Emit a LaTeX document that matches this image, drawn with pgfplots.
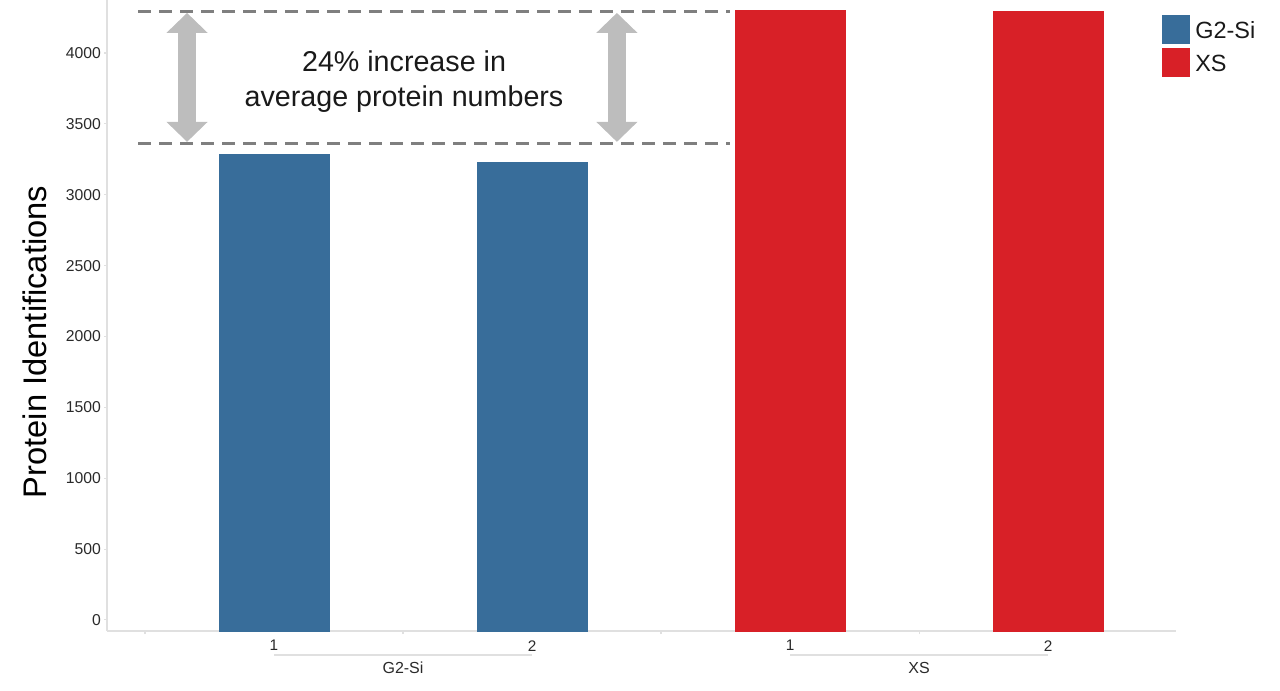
\documentclass[border=0pt]{standalone}
\usepackage{fontspec}
\setmainfont{Liberation Sans}
\usepackage{pgfplots}
\pgfplotsset{compat=1.18}
\usetikzlibrary{arrows.meta}
\definecolor{g2blue}{HTML}{386D9A}
\definecolor{xsred}{HTML}{D82027}
\definecolor{dashgray}{HTML}{7F7F7F}
\definecolor{arrowgray}{HTML}{BDBDBD}
\definecolor{axisgray}{HTML}{E0E0E0}
\definecolor{ticktext}{HTML}{2A2A2A}
\begin{document}
\begin{tikzpicture}
\path[use as bounding box] (-80.25pt,-44.25pt) rectangle (879.75pt,473.25pt);
\begin{axis}[
  scale only axis, width=801.75pt, height=473.25pt,
  xmin=0.3527, xmax=4.496, ymin=-78, ymax=4374,
  axis x line*=bottom, axis y line*=left,
  axis line style={draw=axisgray, line width=1.2pt, -},
  ytick={0,500,...,4000},
  xtick={1,2,3,4}, xticklabels={1,2,1,2},
  minor xtick={0.5,1.5,2.5,3.5},
  major tick length=2pt, minor tick length=2.5pt, tick align=outside,
  tick style={axisgray, line width=0.8pt},
  every major x tick/.append style={draw=none},
  /pgf/number format/.cd, 1000 sep={}, assume math mode=true, /pgfplots/.cd,
  yticklabel style={font=\fontsize{11.8}{14}\selectfont, text=ticktext, xshift=1pt},
  xticklabel style={font=\fontsize{11.5}{14}\selectfont, text=ticktext, yshift=-1.5pt},
  ylabel={Protein Identifications},
  ylabel style={at={(axis description cs:-0.0674,0.458)}, anchor=center, font=\fontsize{24.5}{29}\selectfont, text=black},
  legend style={at={(0.9869,0.9762)}, anchor=north west, draw=none, fill=none, inner sep=0pt,
    font=\fontsize{17.6}{21}\selectfont, text=black!90, row sep=3.35pt, column sep=4.5pt,
    nodes={inner sep=0pt, text depth=0.15em}},
  legend cell align=left,
  clip=false,
]
\addplot[ybar, bar shift=0pt, bar width=82.5pt, fill=g2blue, draw=g2blue, line width=0.3pt,
  legend image code/.code={\fill[g2blue] (0pt,-9.3pt) rectangle (20pt,11.7pt);}]
  coordinates {(1,3287) (2,3231)};
\addlegendentry{G2-Si}
\addplot[ybar, bar shift=0pt, bar width=82.5pt, fill=xsred, draw=xsred, line width=0.3pt,
  legend image code/.code={\fill[xsred] (0pt,-9.3pt) rectangle (20pt,11.7pt);}]
  coordinates {(3,4303) (4,4296)};
\addlegendentry{XS}
% bars continue down to the axis floor (ymin)
\addplot[ybar, bar shift=0pt, bar width=82.5pt, fill=g2blue, draw=g2blue, line width=0.3pt, forget plot]
  coordinates {(1,-78) (2,-78)};
\addplot[ybar, bar shift=0pt, bar width=82.5pt, fill=xsred, draw=xsred, line width=0.3pt, forget plot]
  coordinates {(3,-78) (4,-78)};
% annotation
\draw[dashgray, line width=2.25pt, dash pattern=on 9.75pt off 6pt] (axis cs:0.473,4290) -- (axis cs:2.767,4290);
\draw[dashgray, line width=2.25pt, dash pattern=on 9.75pt off 6pt] (axis cs:0.473,3365) -- (axis cs:2.767,3365);
\draw[arrowgray, line width=13.5pt, {Triangle[width=30pt,length=15pt]}-{Triangle[width=30pt,length=15pt]}] (axis cs:0.663,4283) -- (axis cs:0.663,3373);
\draw[arrowgray, line width=13.5pt, {Triangle[width=30pt,length=15pt]}-{Triangle[width=30pt,length=15pt]}] (axis cs:2.329,4283) -- (axis cs:2.329,3373);
\node[anchor=base, font=\fontsize{21.5}{26}\selectfont, text=black!90] at (axis cs:1.504,3866) {24\% increase in};
\node[anchor=base, font=\fontsize{21.5}{26}\selectfont, text=black!90] at (axis cs:1.504,3620) {average protein numbers};
% group labels
\draw[axisgray, line width=1.5pt] ([yshift=-18pt]axis cs:1,-78) -- ([yshift=-18pt]axis cs:2,-78);
\draw[axisgray, line width=1.5pt] ([yshift=-18pt]axis cs:3,-78) -- ([yshift=-18pt]axis cs:4,-78);
\node[font=\fontsize{12}{14}\selectfont, text=ticktext] at ([yshift=-27.75pt]axis cs:1.5,-78) {G2-Si};
\node[font=\fontsize{12}{14}\selectfont, text=ticktext] at ([yshift=-27.75pt]axis cs:3.5,-78) {XS};
\end{axis}
\end{tikzpicture}
\end{document}
